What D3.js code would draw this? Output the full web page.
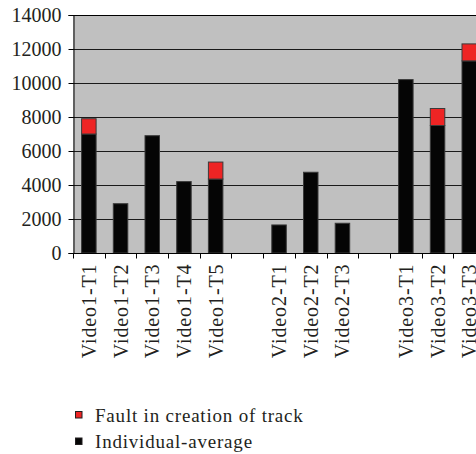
<!DOCTYPE html>
<html>
<head>
<meta charset="utf-8">
<script src="https://cdn.jsdelivr.net/npm/d3@7/dist/d3.min.js"></script>
<style>
  html, body { margin: 0; padding: 0; background: #fff; }
  svg { display: block; }
  text { font-family: "Liberation Serif", "Times New Roman", serif; fill: #231f20; }
</style>
</head>
<body>
<svg id="chart" width="476" height="454"></svg>
<script>
// Track labels per category slot; empty strings are spacer slots between videos
const categories = ["Video1-T1", "Video1-T2", "Video1-T3", "Video1-T4", "Video1-T5", "",
                    "Video2-T1", "Video2-T2", "Video2-T3", "",
                    "Video3-T1", "Video3-T2", "Video3-T3"];
// Stacked series: average per track, plus extra time from faults in track creation
const individualAverage = [7000, 2900, 6900, 4200, 4350, null, 1650, 4750, 1750, null, 10200, 7500, 11300];
const faultInCreation   = [900, 0, 0, 0, 1000, null, 0, 0, 0, null, 0, 1000, 1000];
const yTicks = [0, 2000, 4000, 6000, 8000, 10000, 12000, 14000];
const seriesNames = ["Fault in creation of track", "Individual-average"];
const seriesColors = ["#ee2424", "#050505"];

const svg = d3.select("#chart");
const plotLeft = 73, plotTop = 15, plotBottom = 253;
const step = 31.7;

const x = d3.scaleBand()
  .domain(d3.range(categories.length))
  .range([plotLeft, plotLeft + step * categories.length])
  .paddingInner(0).paddingOuter(0);
const y = d3.scaleLinear().domain([0, 14000]).range([plotBottom, plotTop]);
const barW = 14.5;
const barOff = (x.bandwidth() - barW) / 2;
const plotRight = x.range()[1];

// plot background
svg.append("rect")
  .attr("x", plotLeft).attr("y", plotTop)
  .attr("width", plotRight - plotLeft).attr("height", plotBottom - plotTop)
  .attr("fill", "#c0c0c0");

// horizontal gridlines
svg.append("g")
  .selectAll("line")
  .data(yTicks.slice(1))
  .join("line")
  .attr("x1", plotLeft).attr("x2", plotRight)
  .attr("y1", d => Math.round(y(d)) + 0.5).attr("y2", d => Math.round(y(d)) + 0.5)
  .attr("stroke", "#1a1a1a").attr("stroke-width", 1);

// stacked bars
const idx = d3.range(categories.length).filter(i => individualAverage[i] != null);
const bars = svg.append("g");
bars.selectAll("rect.avg")
  .data(idx)
  .join("rect")
  .attr("class", "avg")
  .attr("x", i => x(i) + barOff)
  .attr("y", i => y(individualAverage[i]))
  .attr("width", barW)
  .attr("height", i => y(0) - y(individualAverage[i]))
  .attr("fill", seriesColors[1])
  .attr("stroke", "#3a3a3a").attr("stroke-width", 1);
bars.selectAll("rect.fault")
  .data(idx.filter(i => faultInCreation[i] > 0))
  .join("rect")
  .attr("class", "fault")
  .attr("x", i => x(i) + barOff)
  .attr("y", i => y(individualAverage[i] + faultInCreation[i]))
  .attr("width", barW)
  .attr("height", i => y(individualAverage[i]) - y(individualAverage[i] + faultInCreation[i]))
  .attr("fill", seriesColors[0])
  .attr("stroke", "#3a3a3a").attr("stroke-width", 1);

// y axis
const yAxis = svg.append("g")
  .attr("transform", `translate(${plotLeft + 0.5},0)`)
  .call(d3.axisLeft(y).tickValues(yTicks).tickSize(5).tickPadding(7).tickFormat(d3.format("d")));
yAxis.select(".domain").attr("stroke", "#000");
yAxis.selectAll(".tick line").attr("stroke", "#000");
yAxis.selectAll("text").style("font-size", "20px").attr("fill", "#231f20");

// x axis: ticks at the band boundaries, labels rotated under each band
const xAxis = svg.append("g").attr("transform", `translate(0,${plotBottom + 0.5})`);
xAxis.append("line")
  .attr("x1", plotLeft).attr("x2", plotRight)
  .attr("stroke", "#000");
xAxis.selectAll("line.tick")
  .data(d3.range(categories.length + 1))
  .join("line")
  .attr("class", "tick")
  .attr("x1", i => Math.round(plotLeft + i * x.step()) + 0.5)
  .attr("x2", i => Math.round(plotLeft + i * x.step()) + 0.5)
  .attr("y1", 0).attr("y2", 5)
  .attr("stroke", "#000");
xAxis.selectAll("text")
  .data(d3.range(categories.length).filter(i => categories[i] !== ""))
  .join("text")
  .attr("transform", i => `translate(${x(i) + x.bandwidth() / 2},10) rotate(-90)`)
  .attr("text-anchor", "end")
  .attr("dy", "0.35em")
  .style("font-size", "20px")
  .style("letter-spacing", "0.9px")
  .text(i => categories[i]);

// top border of the plot
svg.append("line")
  .attr("x1", plotLeft).attr("x2", plotRight)
  .attr("y1", plotTop + 0.5).attr("y2", plotTop + 0.5)
  .attr("stroke", "#000");

// legend
const legend = svg.append("g").attr("transform", "translate(75,411)");
const rows = legend.selectAll("g")
  .data(seriesNames)
  .join("g")
  .attr("transform", (d, i) => `translate(0,${i * 26.5})`);
rows.append("rect")
  .attr("x", 0.5).attr("y", 0.5)
  .attr("width", 6.5).attr("height", 6.5)
  .attr("fill", (d, i) => seriesColors[i])
  .attr("stroke", "#231f20").attr("stroke-width", 1);
rows.append("text")
  .attr("x", 20).attr("y", 10.5)
  .style("font-size", "19px")
  .style("letter-spacing", "0.8px")
  .text(d => d);
</script>
</body>
</html>
